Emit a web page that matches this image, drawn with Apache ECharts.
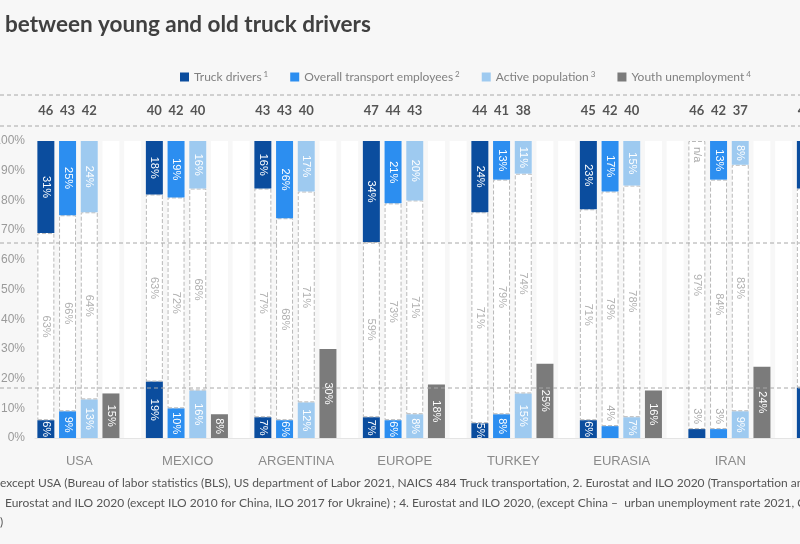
<!DOCTYPE html>
<html><head><meta charset="utf-8">
<script src="https://cdn.jsdelivr.net/npm/echarts@6/dist/echarts.min.js"></script>
<style>html,body{margin:0;padding:0;background:#f7f7f7}#c{width:800px;height:544px}</style>
</head><body><div id="c"></div>
<script>
// ---- data (shares in %, average age in years) ----
const categories = ['USA','MEXICO','ARGENTINA','EUROPE','TURKEY','EURASIA','IRAN','CHINA'];
const truckYoung      = [6, 19, 7, 7, 5, 6, 3, 17];
const truckMiddle     = [63, 63, 77, 59, 71, 71, 97, 67];
const truckOld        = [31, 18, 16, 34, 24, 23, null, 16];
const truckAge        = [46, 40, 43, 47, 44, 45, 46, 45];
const transportYoung  = [9, 10, 6, 6, 8, 4, 3, null];
const transportMiddle = [66, 72, 68, 73, 79, 79, 84, null];
const transportOld    = [25, 19, 26, 21, 13, 17, 13, null];
const transportAge    = [43, 42, 43, 44, 41, 42, 42, null];
const activeYoung     = [13, 16, 12, 8, 15, 7, 9, null];
const activeMiddle    = [64, 68, 71, 71, 74, 78, 83, null];
const activeOld       = [24, 16, 17, 20, 11, 15, 8, null];
const activeAge       = [42, 40, 40, 43, 38, 40, 37, null];
const youthUnemployment = [15, 8, 30, 18, 25, 16, 24, null];
const legendNames = ['Truck drivers','Overall transport employees','Active population','Youth unemployment'];
const legendSup = ['1','2','3','4'];

const C_TRUCK = '#0b4d9e', C_TRANS = '#2c8ef0', C_ACT = '#9ecaf0', C_YOUTH = '#7b7b7b';
const BAR = {type:'bar', barWidth:17, barGap:'27.6%', barCategoryGap:'4.3%'};
const LBL = {show:true, rotate:-90, fontFamily:'Liberation Sans, Arial', fontSize:11, formatter: p => p.value + '%'};

function stackSeries(name, color, young, middle, old, age, sid) {
  const base = Object.assign({}, BAR, {stack:sid});
  return [
    Object.assign({}, base, {
      name: name, showBackground:true, backgroundStyle:{color:'#ffffff'},
      itemStyle:{color:color},
      label: Object.assign({}, LBL, {color:'#fff'}),
      data: young.map(v => v == null ? '-' : (v < 5 ? {value:v, label:{position:'top', align:'right', verticalAlign:'middle', distance:5, color:'#aaa'}} : v))
    }),
    Object.assign({}, base, {
      // the white 25-55 box fills the column up to 100 %; its label shows the published share
      name: name + ' (25-55)',
      itemStyle:{color:'#ffffff', borderColor:'#b8b8b8', borderType:'dashed', borderWidth:1},
      label: Object.assign({}, LBL, {color:'#b0b0b0', formatter: p => middle[p.dataIndex] + '%'}),
      data: middle.map((v, i) => v == null ? '-' : (old[i] == null ? v : 100 - young[i] - old[i]))
    }),
    Object.assign({}, base, {
      name: name + ' (>55)',
      itemStyle:{color:color},
      label: Object.assign({}, LBL, {color:'#fff'}),
      data: old.map((v, i) => v == null ? (middle[i] != null ? {value:0, label:{formatter:'n/a', position:'insideTop', align:'left', verticalAlign:'middle', distance:6, color:'#aaa'}} : '-') : v)
    }),
    Object.assign({}, base, {
      name: name + ' age',
      itemStyle:{color:'transparent'}, clip:false,
      labelLayout:{hideOverlap:false},
      label:{show:true, position:'top', distance:24, formatter: p => age[p.dataIndex], color:'#555', fontSize:13, fontWeight:'bold', fontFamily:'Lato'},
      data: age.map(v => v == null ? '-' : 0)
    })
  ];
}

const series = [].concat(
  stackSeries(legendNames[0], C_TRUCK, truckYoung, truckMiddle, truckOld, truckAge, 'truck'),
  stackSeries(legendNames[1], C_TRANS, transportYoung, transportMiddle, transportOld, transportAge, 'trans'),
  stackSeries(legendNames[2], C_ACT, activeYoung, activeMiddle, activeOld, activeAge, 'act'),
  [Object.assign({}, BAR, {
    name: legendNames[3], itemStyle:{color:C_YOUTH}, showBackground:true, backgroundStyle:{color:'#ffffff'},
    label: Object.assign({}, LBL, {color:'#fff', position:'inside'}),
    data: youthUnemployment.map(v => v == null ? '-' : v)
  }),
  Object.assign({}, BAR, {
    name:'gap', silent:true, showBackground:true, backgroundStyle:{color:'#ffffff'},
    itemStyle:{color:'transparent'}, data: categories.map(() => 0)
  })]
);

const dash = {stroke:'#a8a8a8', lineWidth:1, lineDash:[4,3]};
const chart = echarts.init(document.getElementById('c'));
chart.setOption({
  backgroundColor:'#f7f7f7',
  animation:false,
  title:{text:'between young and old truck drivers', left:0, top:8,
    textStyle:{fontFamily:'Lato', fontWeight:'bold', fontSize:22.5, color:'#404040'}},
  legend:{
    data: legendNames, left:175, top:65, icon:'rect', itemWidth:9, itemHeight:9, itemGap:22,
    formatter: n => '{t|' + n + '}{s|' + legendSup[legendNames.indexOf(n)] + '}',
    textStyle:{rich:{
      t:{fontFamily:'Lato', fontSize:12, color:'#808080'},
      s:{fontFamily:'Lato', fontSize:8, color:'#808080', verticalAlign:'top', padding:[0,0,6,2]}
    }}
  },
  grid:{left:35, top:141, width:868, height:297, outerBoundsMode:'none', containLabel:false},
  xAxis:{type:'category', data:categories,
    axisLine:{show:true, lineStyle:{color:'#e4e4e4'}}, axisTick:{show:false},
    axisLabel:{interval:0, color:'#8a8a8a', fontFamily:'Liberation Sans, Arial', fontSize:13, margin:17, padding:[0,20,0,0]}},
  yAxis:{type:'value', min:0, max:100, interval:10,
    axisLine:{show:false}, axisTick:{show:false}, splitLine:{show:false},
    axisLabel:{formatter:'{value}%', color:'#9a9a9a', fontFamily:'Liberation Sans, Arial', fontSize:12, margin:10}},
  graphic:[
    {type:'line', silent:true, shape:{x1:0, y1:95, x2:800, y2:95}, style:dash},
    {type:'line', silent:true, shape:{x1:0, y1:126, x2:800, y2:126}, style:dash},
    {type:'line', silent:true, shape:{x1:0, y1:243, x2:800, y2:243}, style:dash, z:100},
    {type:'line', silent:true, shape:{x1:0, y1:388, x2:800, y2:388}, style:dash, z:100},
    {type:'text', left:0, top:477, style:{text:'except USA (Bureau of labor statistics (BLS), US department of Labor 2021, NAICS 484 Truck transportation, 2. Eurostat and ILO 2020 (Transportation and storage)', font:'12px Lato', fill:'#555'}},
    {type:'text', left:5, top:497, style:{text:'Eurostat and ILO 2020 (except ILO 2010 for China, ILO 2017 for Ukraine) ; 4. Eurostat and ILO 2020, (except China \u2013  urban unemployment rate 2021, China)', font:'12px Lato', fill:'#555'}},
    {type:'text', left:0, top:516, style:{text:')', font:'12px Lato', fill:'#555'}}
  ],
  series: series
});
</script></body></html>
